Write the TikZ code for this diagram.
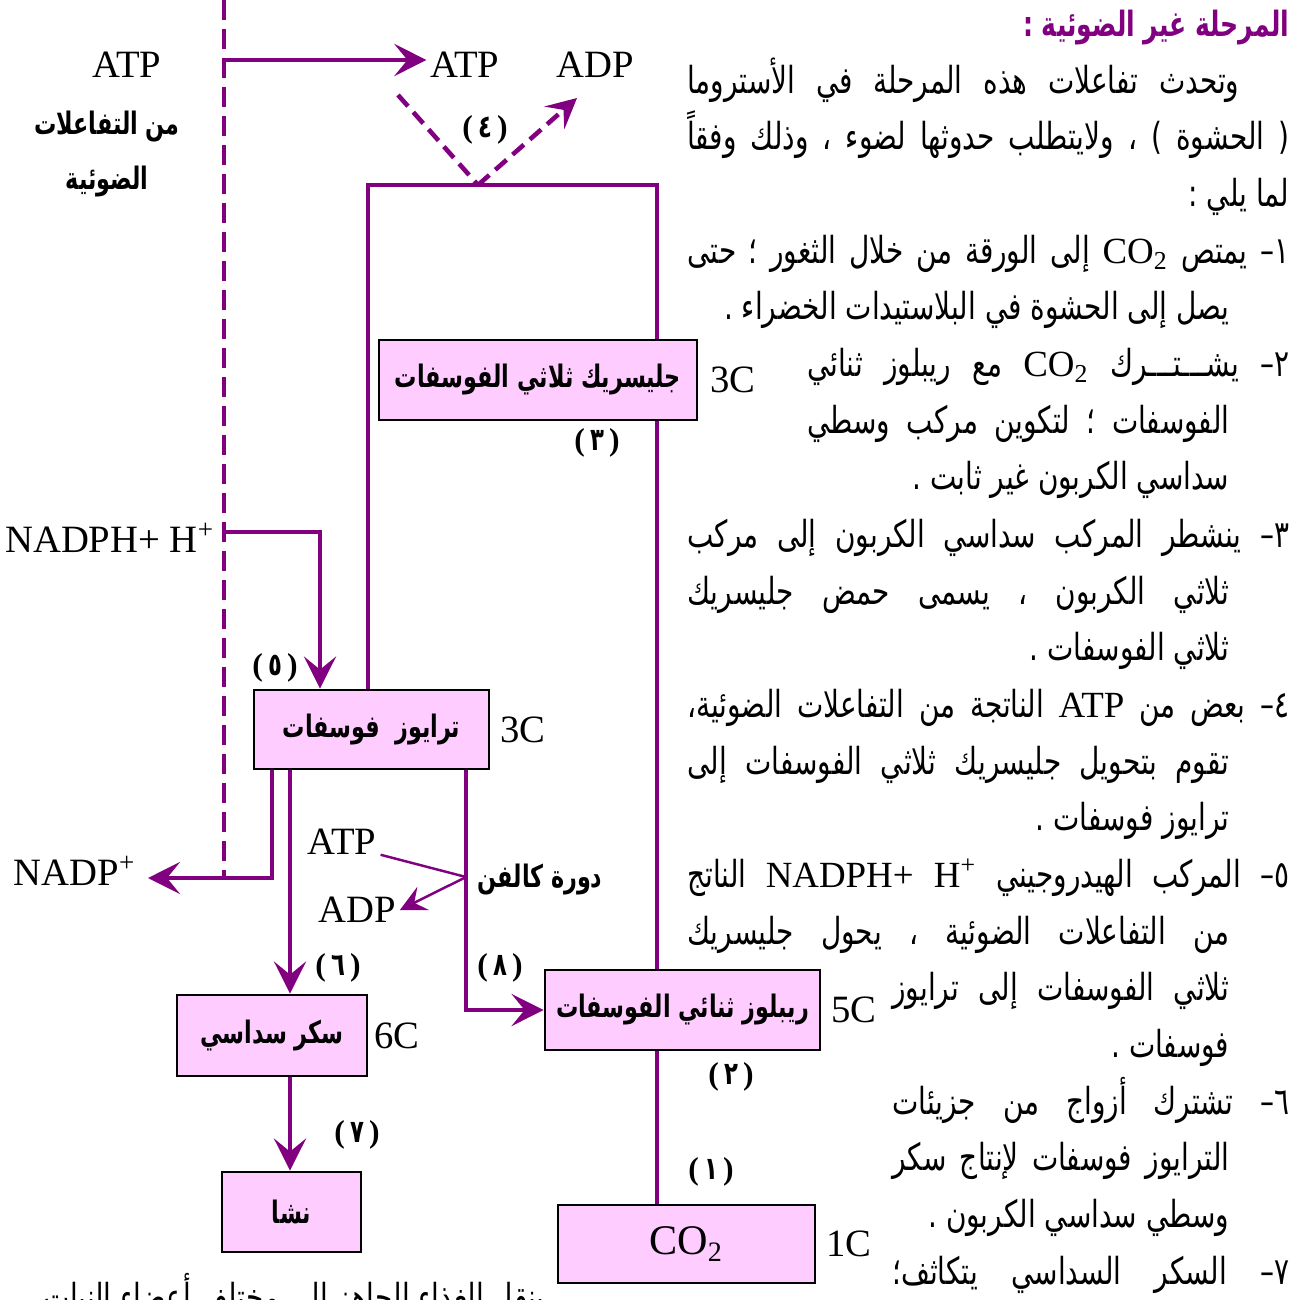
\documentclass[tikz,border=0pt]{standalone}
\usepackage{fontspec}
\setmainfont{Liberation Serif}
\newfontfamily\arabicfont[Script=Arabic, FakeStretch=0.75]{DejaVu Sans}
\newfontfamily\arabicbold[Script=Arabic, FakeStretch=0.72]{DejaVu Sans}
\TeXXeTstate=1
\usepackage{tikz}
\usetikzlibrary{arrows.meta, positioning, calc}

\definecolor{plum}{RGB}{128,0,128}
\definecolor{pinkbox}{RGB}{255,204,255}

% right-to-left text, natural width or stretched to a given width
\newcommand{\ar}[1]{{\beginR #1\endR}}
\newcommand{\jrow}[2]{\hbox to #1{\beginR #2\endR}}
\newcommand{\lat}[1]{\beginL{\rmfamily\fontsize{10.5}{12}\selectfont #1}\endL{}}
\newcommand{\itemno}[1]{#1\kern0pt–}
\newcommand{\stepnum}[1]{{\rmfamily\bfseries(}\,#1\,{\rmfamily\bfseries)}}

\begin{document}
\begin{tikzpicture}[
  x=0.1mm, y=-0.1mm,
  box/.style={draw=black, line width=0.8pt, fill=pinkbox, inner sep=0pt,
              font=\arabicbold\bfseries\fontsize{8.8}{10}\selectfont},
  lbl/.style={inner sep=1pt, font=\fontsize{11}{13}\selectfont},
  arb/.style={inner sep=1pt, font=\arabicbold\bfseries\fontsize{8.8}{10}\selectfont},
  stepno/.style={inner sep=1pt, font=\arabicbold\bfseries\fontsize{9}{10}\selectfont},
  txt/.style={anchor=base east, inner sep=0pt, font=\arabicfont\fontsize{10.6}{12}\selectfont},
  heading/.style={txt, text=plum, font=\arabicbold\bfseries\fontsize{9.9}{12}\selectfont},
  flow/.style={draw=plum, line width=1.3pt},
  arr/.style={flow, -{Stealth[length=3.2mm, width=3.2mm, inset=1.3mm]}},
  side/.style={draw=plum, line width=0.7pt},
  sidearr/.style={side, -{Stealth[length=2.6mm, width=2.6mm, inset=1mm]}},
  sep/.style={flow, dash pattern=on 2mm off 0.9mm},
  dash4/.style={flow, dash pattern=on 1.5mm off 0.8mm},
]
\path[use as bounding box, fill=white] (0,0) rectangle (1302,1299);
\clip (0,0) rectangle (1302,1299);

% boxes
\node[box, minimum width=31.8mm, minimum height=8mm] (gly) at (538,380) {\ar{جليسريك ثلاثي الفوسفات}};
\node[box, minimum width=27.5mm, minimum height=8mm] (rib) at (682.5,1010) {\ar{ريبلوز ثنائي الفوسفات}};
\node[box, minimum width=25.7mm, minimum height=7.8mm, font=\fontsize{12}{14}\selectfont] (co2) at (686.5,1244) {CO\textsubscript{2}};
\node[box, minimum width=23.5mm, minimum height=7.9mm] (tri) at (371.5,729.5) {\ar{ترايوز\ \ فوسفات}};
\node[box, minimum width=19mm, minimum height=8.1mm] (hex) at (272,1035.5) {\ar{سكر سداسي}};
\node[box, minimum width=13.9mm, minimum height=8mm] (sta) at (291.5,1212) {\ar{نشا}};

% carbon counts
\node[lbl, right=0.8mm of gly] (cgly) {3C};
\node[lbl, right=0.6mm of rib] (crib) {5C};
\node[lbl, right=0.6mm of co2] (cco2) {1C};
\node[lbl, right=0.6mm of tri] (ctri) {3C};
\node[lbl, right=0.2mm of hex] (chex) {6C};

% labels
\node[lbl] (atpL) at (127,65) {ATP};
\node[arb] (light1) at (107,127) {\ar{من التفاعلات}};
\node[arb] (light2) at (107,182) {\ar{الضوئية}};
\node[lbl] (atp4) at (465,65) {ATP};
\node[lbl] (adp4) at (595,65) {ADP};
\node[lbl] (nadph) at (110,538) {NADPH+ H\textsuperscript{+}};
\node[lbl] (nadp) at (75,871) {NADP\textsuperscript{+}};
\node[lbl] (atpC) at (342,842) {ATP};
\node[lbl] (adpC) at (357,910) {ADP};
\node[arb] (calvin) at (540,880) {\ar{دورة كالفن}};

% step numbers
\node[stepno] (n1) at (711,1172) {\stepnum{١}};
\node[stepno] (n2) at (731,1077) {\stepnum{٢}};
\node[stepno] (n3) at (597,443) {\stepnum{٣}};
\node[stepno] (n4) at (485,130) {\stepnum{٤}};
\node[stepno] (n5) at (275,668) {\stepnum{٥}};
\node[stepno] (n6) at (338,968) {\stepnum{٦}};
\node[stepno] (n7) at (357,1135) {\stepnum{٧}};
\node[stepno] (n8) at (500,968) {\stepnum{٨}};

% free ends
\coordinate (dTop) at (224,0);
\coordinate (dBot) at (224,878);
\coordinate (atpOut) at (224,60);
\coordinate (nadIn) at (224,532);
\coordinate (nadOut) at (148,878);
\coordinate (d4a) at (398,95);
\coordinate (d4b) at (577,98);
\coordinate (hub4) at (478,185);
\coordinate (loopL) at (368,0);
\coordinate (spine) at (657,0);
\coordinate (x5) at (320,0);
\coordinate (xN) at (272,0);
\coordinate (x6) at (290,0);
\coordinate (x8) at (466,0);
\coordinate (cvB) at (466,877);

\draw[sep] (dTop) -- (dBot);
\draw[arr] (atpOut) -- (atpOut -| atp4.west);
\draw[dash4] (d4a) -- (hub4);
\draw[dash4, -{Stealth[length=3mm, width=3mm, inset=1.2mm]}] (hub4) -- (d4b);
\draw[flow] (tri.north -| loopL) |- (hub4) -| (gly.north -| spine);
\draw[flow] (gly.south -| spine) -- (rib.north -| spine);
\draw[flow] (rib.south -| spine) -- (co2.north -| spine);
\draw[arr] (nadIn) -| (tri.north -| x5);
\draw[arr] (tri.south -| xN) |- (nadOut);
\draw[arr] (tri.south -| x6) -- (hex.north -| x6);
\draw[arr] (hex.south -| x6) -- (sta.north -| x6);
\draw[arr] (tri.south -| x8) |- (rib.west);
\draw[side] (atpC.base east) -- (cvB);
\draw[sidearr] (cvB) -- (adpC.east);

% text column
\node[heading] (t0) at (1290,37) {\ar{المرحلة غير الضوئية :}};
\node[txt] (t1) at (1240,94) {\jrow{55.2mm}{وتحدث تفاعلات هذه المرحلة في الأستروما}};
\node[txt] (t2) at (1290,150) {\jrow{60.2mm}{( الحشوة ) ، ولايتطلب حدوثها لضوء ، وذلك وفقاً}};
\node[txt] (t3) at (1290,207) {\ar{لما يلي :}};
\node[txt] (t4) at (1290,264) {\jrow{60.2mm}{\itemno{١} يمتص \lat{CO\textsubscript{2}} إلى الورقة من خلال الثغور ؛ حتى}};
\node[txt] (t5) at (1230,320) {\ar{يصل إلى الحشوة في البلاستيدات الخضراء .}};
\node[txt] (t6) at (1290,377) {\jrow{48.2mm}{\itemno{٢} يشـــتـــرك \lat{CO\textsubscript{2}} مع ريبلوز ثنائي}};
\node[txt] (t7) at (1230,434) {\jrow{42.2mm}{الفوسفات ؛ لتكوين مركب وسطي}};
\node[txt] (t8) at (1230,490) {\ar{سداسي الكربون غير ثابت .}};
\node[txt] (t9) at (1290,547) {\jrow{60.2mm}{\itemno{٣} ينشطر المركب سداسي الكربون إلى مركب}};
\node[txt] (t10) at (1230,604) {\jrow{54.2mm}{ثلاثي الكربون ، يسمى حمض جليسريك}};
\node[txt] (t11) at (1230,660) {\ar{ثلاثي الفوسفات .}};
\node[txt] (t12) at (1290,717) {\jrow{60.2mm}{\itemno{٤} بعض من \lat{ATP} الناتجة من التفاعلات الضوئية،}};
\node[txt] (t13) at (1230,774) {\jrow{54.2mm}{تقوم بتحويل جليسريك ثلاثي الفوسفات إلى}};
\node[txt] (t14) at (1230,830) {\ar{ترايوز فوسفات .}};
\node[txt] (t15) at (1290,887) {\jrow{60.2mm}{\itemno{٥} المركب الهيدروجيني \lat{NADPH+ H\textsuperscript{+}} الناتج}};
\node[txt] (t16) at (1230,944) {\jrow{54.2mm}{من التفاعلات الضوئية ، يحول جليسريك}};
\node[txt] (t17) at (1230,1000) {\jrow{33.7mm}{ثلاثي الفوسفات إلى ترايوز}};
\node[txt] (t18) at (1230,1057) {\ar{فوسفات .}};
\node[txt] (t19) at (1290,1114) {\jrow{39.7mm}{\itemno{٦} تشترك أزواج من جزيئات}};
\node[txt] (t20) at (1230,1170) {\jrow{33.7mm}{الترايوز فوسفات لإنتاج سكر}};
\node[txt] (t21) at (1230,1227) {\ar{وسطي سداسي الكربون .}};
\node[txt] (t22) at (1290,1284) {\jrow{39.7mm}{\itemno{٧} السكر السداسي يتكاثف؛}};
\node[txt] (t23) at (545,1310) {\ar{ينقل الغذاء الجاهز إلى مختلف أعضاء النبات}};

\end{tikzpicture}
\end{document}
